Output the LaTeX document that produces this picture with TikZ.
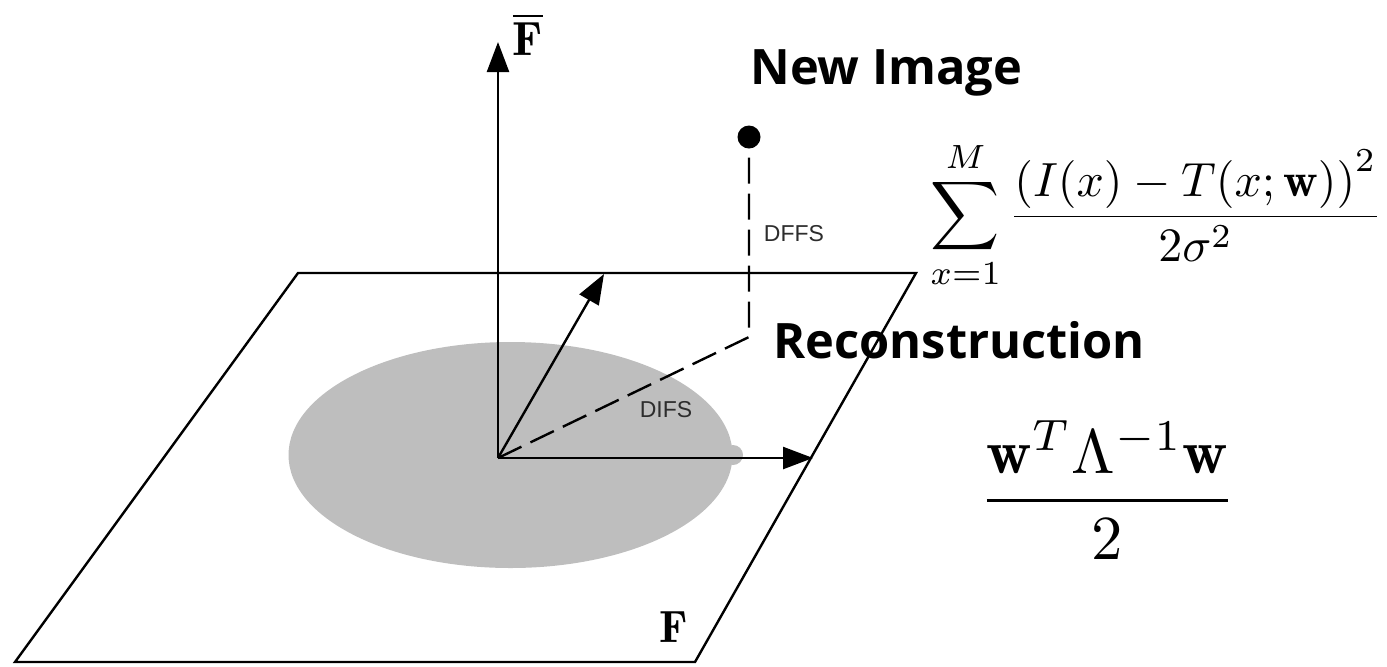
\documentclass[tikz,border=0pt]{standalone}
\usepackage{fontspec}
\usepackage{amsmath}
\usepackage{graphicx}
\usetikzlibrary{arrows.meta}
\newfontfamily\labelfont{Open Sans}
\newfontfamily\smallfont{Liberation Sans}
\definecolor{blobgray}{RGB}{190,190,190}
\definecolor{txtgray}{RGB}{45,45,45}
\tikzset{
  edge/.style={line width=1.2pt, black},
  vec/.style={line width=1.2pt, -{Triangle[length=15pt,width=11pt]}},
  dashline/.style={line width=1.2pt, dash pattern=on 13pt off 5pt},
  bigtitle/.style={anchor=base west, inner sep=0pt, font=\labelfont\bfseries\fontsize{24.4}{29}\selectfont},
  smalllab/.style={inner sep=0pt, text=txtgray, font=\smallfont\fontsize{11.5}{13}\selectfont},
  mathlab/.style={inner sep=0pt}
}
\begin{document}
\begin{tikzpicture}[x=0.5pt,y=-0.5pt]
\useasboundingbox (0,0) rectangle (1387,666);
% gray blob
\fill[blobgray] (510.5,455) ellipse [x radius=222, y radius=113];
\fill[blobgray] (733,455) circle [radius=10];
% plane F
\coordinate (p1) at (298,273);
\coordinate (p2) at (916,273);
\coordinate (p3) at (695,662);
\coordinate (p4) at (15,662);
\draw[edge, line join=miter] (p1) -- (p2) -- (p3) -- (p4) -- cycle;
% origin and vectors
\coordinate (O) at (498,458);
\coordinate (ztop) at (498,42);
\coordinate (vtip) at (604,274);
\coordinate (htip) at (813,458);
\coordinate (corner) at (749,337);
\node[circle, fill=black, inner sep=0pt, minimum size=11.5pt] (img) at (749,137) {};
\draw[vec] (O) -- (ztop);
\draw[vec] (O) -- (vtip);
\draw[vec] (O) -- (htip);
\draw[dashline] (O) -- (corner) -- (img.center);
% labels
\node[mathlab] (Fbar) at (528,34) {\scalebox{2.4}{$\overline{\mathbf{F}}$}};
\node[mathlab] (Flab) at (674,627) {\scalebox{2.26}{$\mathbf{F}$}};
\node[smalllab] (dffs) at (794,234) {DFFS};
\node[smalllab] (difs) at (666,410) {DIFS};
\node[bigtitle] (newimg) at (750,84) {New Image};
\node[bigtitle] (recon) at (773,358) {Reconstruction};
% formulas
\node[mathlab, anchor=west] (eq1) at (930,215) {\resizebox{226pt}{!}{$\displaystyle \sum_{x=1}^{M}\frac{\left(I(x)-T(x;\mathbf{w})\right)^2}{2\sigma^2}$}};
\node[mathlab, anchor=west] (eq2) at (979,490) {\resizebox{128pt}{!}{$\displaystyle \frac{\mathbf{w}^T\Lambda^{-1}\mathbf{w}}{2}$}};
\end{tikzpicture}
\end{document}
